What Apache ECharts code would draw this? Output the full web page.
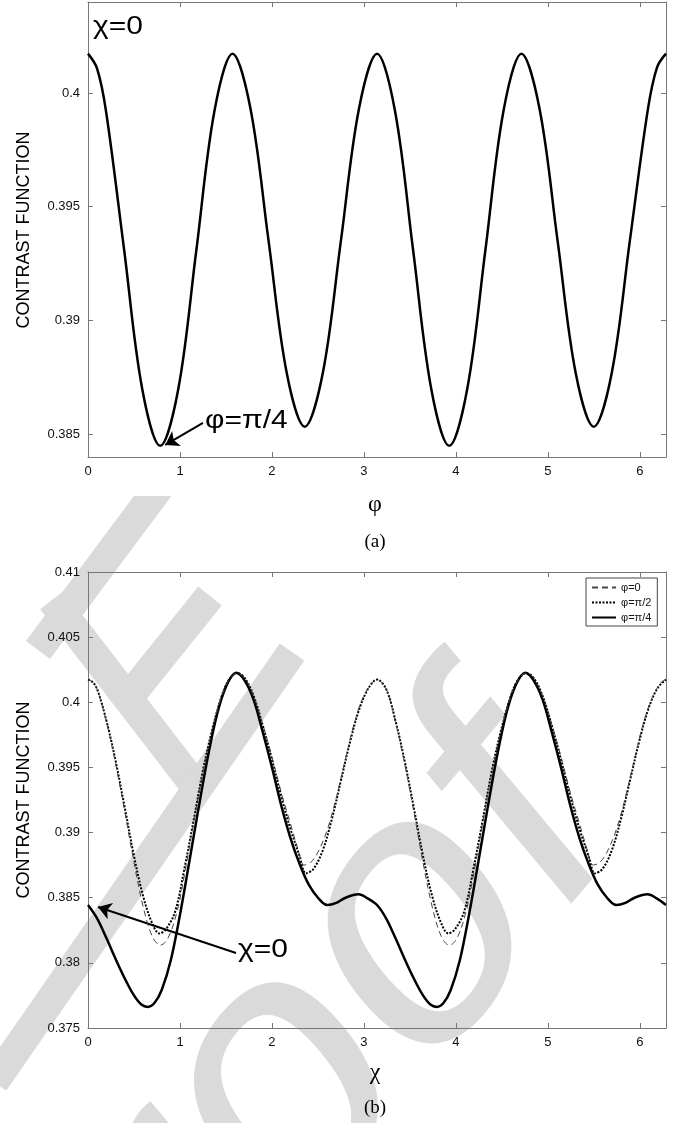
<!DOCTYPE html>
<html>
<head>
<meta charset="utf-8">
<script src="https://cdn.jsdelivr.net/npm/echarts@6/dist/echarts.min.js"></script>
<style>
  html, body { margin: 0; padding: 0; background: #fff; }
  #chart { width: 688px; height: 1123px; }
</style>
</head>
<body>
<div id="chart"></div>
<script>
// ---- panel (a): chi = 0, contrast vs phi ----
const phiA = [0, 0.098, 0.196, 0.393, 0.589, 0.785, 0.982, 1.178, 1.374, 1.571, 1.767, 1.963, 2.160, 2.356, 2.553, 2.749, 2.945,
  3.142, 3.338, 3.534, 3.731, 3.927, 4.123, 4.320, 4.516, 4.712, 4.909, 5.105, 5.301, 5.498, 5.694, 5.890, 6.087, 6.185, 6.283];
const contrastA = [0.40173, 0.40108, 0.3992, 0.3931, 0.3870, 0.38449, 0.3870, 0.3931, 0.3992, 0.40173, 0.3993, 0.3935, 0.3877, 0.38533, 0.3877, 0.3935, 0.3993,
  0.40173, 0.3992, 0.3931, 0.3870, 0.38449, 0.3870, 0.3931, 0.3992, 0.40173, 0.3993, 0.3935, 0.3877, 0.38533, 0.3877, 0.3935, 0.3993, 0.40112, 0.40173];

// ---- panel (b): contrast vs chi ----
const chiPhi0 = [0, 0.05, 0.1, 0.2, 0.3, 0.4, 0.5, 0.6, 0.7, 0.786, 0.87, 0.97, 1.05, 1.15, 1.25, 1.35, 1.45, 1.53, 1.62, 1.7, 1.8, 1.9, 2.0, 2.1, 2.2, 2.28, 2.35, 2.42, 2.5, 2.6, 2.7, 2.8, 2.9, 3.0,
  3.142, 3.242, 3.342, 3.442, 3.542, 3.642, 3.742, 3.842, 3.928, 4.012, 4.112, 4.192, 4.292, 4.392, 4.492, 4.592, 4.672, 4.762, 4.842, 4.942, 5.042, 5.142, 5.242, 5.342, 5.422, 5.492, 5.562, 5.642, 5.742, 5.842, 5.942, 6.042, 6.142, 6.233, 6.283];
const contrastPhi0 = [0.40174, 0.40155, 0.4010, 0.3985, 0.3953, 0.3916, 0.3877, 0.3843, 0.3820, 0.38136, 0.3819, 0.3840, 0.3868, 0.3908, 0.3947, 0.3979, 0.4004, 0.4017, 0.40224, 0.4019, 0.4005, 0.3983, 0.3958, 0.3931, 0.3907, 0.3888, 0.38751, 0.3877, 0.3885, 0.3902, 0.3927, 0.3957, 0.3985, 0.4005,
  0.40174, 0.4010, 0.3985, 0.3953, 0.3916, 0.3877, 0.3843, 0.3820, 0.38136, 0.3819, 0.3840, 0.3868, 0.3908, 0.3947, 0.3979, 0.4004, 0.4017, 0.40224, 0.4019, 0.4005, 0.3983, 0.3958, 0.3931, 0.3907, 0.3888, 0.38751, 0.3877, 0.3885, 0.3902, 0.3927, 0.3957, 0.3985, 0.4005, 0.40155, 0.40174];

const chiPhiHalfPi = [0, 0.05, 0.1, 0.2, 0.3, 0.4, 0.5, 0.6, 0.7, 0.775, 0.85, 0.95, 1.05, 1.15, 1.25, 1.35, 1.45, 1.53, 1.62, 1.7, 1.8, 1.9, 2.0, 2.1, 2.2, 2.3, 2.37, 2.45, 2.55, 2.65, 2.75, 2.85, 2.95, 3.05,
  3.142, 3.242, 3.342, 3.442, 3.542, 3.642, 3.742, 3.842, 3.917, 3.992, 4.092, 4.192, 4.292, 4.392, 4.492, 4.592, 4.672, 4.762, 4.842, 4.942, 5.042, 5.142, 5.242, 5.342, 5.442, 5.512, 5.592, 5.692, 5.792, 5.892, 5.992, 6.092, 6.192, 6.283];
const contrastPhiHalfPi = [0.40174, 0.40155, 0.4010, 0.3986, 0.3955, 0.3919, 0.3882, 0.3851, 0.3830, 0.38226, 0.3826, 0.3840, 0.3873, 0.3910, 0.3948, 0.3979, 0.4004, 0.4017, 0.40224, 0.4019, 0.4005, 0.3982, 0.3956, 0.3928, 0.3903, 0.3882, 0.38687, 0.3872, 0.3886, 0.3910, 0.3940, 0.3970, 0.3995, 0.4011,
  0.40174, 0.4010, 0.3986, 0.3955, 0.3919, 0.3882, 0.3851, 0.3830, 0.38226, 0.3826, 0.3840, 0.3873, 0.3910, 0.3948, 0.3979, 0.4004, 0.4017, 0.40224, 0.4019, 0.4005, 0.3982, 0.3956, 0.3928, 0.3903, 0.3882, 0.38687, 0.3872, 0.3886, 0.3910, 0.3940, 0.3970, 0.3995, 0.4011, 0.40174];

const chiPhiQuarterPi = [0, 0.1, 0.2, 0.3, 0.4, 0.5, 0.58, 0.65, 0.72, 0.8, 0.9, 1.0, 1.1, 1.2, 1.3, 1.4, 1.5, 1.61, 1.7, 1.8, 1.9, 2.0, 2.1, 2.2, 2.3, 2.4, 2.5, 2.6, 2.7, 2.8, 2.94, 3.04,
  3.142, 3.242, 3.342, 3.442, 3.542, 3.642, 3.722, 3.792, 3.862, 3.942, 4.042, 4.142, 4.242, 4.342, 4.442, 4.542, 4.642, 4.752, 4.842, 4.942, 5.042, 5.142, 5.242, 5.342, 5.442, 5.542, 5.642, 5.742, 5.842, 5.942, 6.082, 6.182, 6.283];
const contrastPhiQuarterPi = [0.38444, 0.3834, 0.3819, 0.3803, 0.3788, 0.3775, 0.3768, 0.37662, 0.3769, 0.3779, 0.3802, 0.3837, 0.3877, 0.3918, 0.3957, 0.3990, 0.4012, 0.40226, 0.4017, 0.4002, 0.3977, 0.3950, 0.3921, 0.3896, 0.3876, 0.3860, 0.3850, 0.38444, 0.3846, 0.3850, 0.38526, 0.38495,
  0.38444, 0.3834, 0.3819, 0.3803, 0.3788, 0.3775, 0.3768, 0.37662, 0.3769, 0.3779, 0.3802, 0.3837, 0.3877, 0.3918, 0.3957, 0.3990, 0.4012, 0.40226, 0.4017, 0.4002, 0.3977, 0.3950, 0.3921, 0.3896, 0.3876, 0.3860, 0.3850, 0.38444, 0.3846, 0.3850, 0.38526, 0.38495, 0.38444];

const xTicks = [0, 1, 2, 3, 4, 5, 6];
const yTicksA = [0.385, 0.39, 0.395, 0.4];
const yTicksB = [0.375, 0.38, 0.385, 0.39, 0.395, 0.4, 0.405, 0.41];

const zip = (xs, ys) => xs.map((x, i) => [x, ys[i]]);

const frame = '#777';
const labelFont = { color: '#111', fontSize: 13, fontFamily: 'Liberation Sans' };
const wmGray = '#dadada';

function xAxisPair(grid) {
  const base = {
    type: 'value', gridIndex: grid, min: 0, max: 6.2832,
    axisLine: { show: true, onZero: false, lineStyle: { color: frame, width: 1 } },
    axisTick: { show: true, inside: true, length: 5, customValues: xTicks, lineStyle: { color: frame } },
    splitLine: { show: false }
  };
  return [
    Object.assign({}, base, { position: 'bottom', axisLabel: Object.assign({ margin: 8, customValues: xTicks }, labelFont) }),
    Object.assign({}, base, { position: 'top', axisLabel: { show: false } })
  ];
}

function yAxisPair(grid, min, max, ticks) {
  const base = {
    type: 'value', gridIndex: grid, min: min, max: max,
    axisLine: { show: true, onZero: false, lineStyle: { color: frame, width: 1 } },
    axisTick: { show: true, inside: true, length: 5, customValues: ticks, lineStyle: { color: frame } },
    splitLine: { show: false }
  };
  return [
    Object.assign({}, base, { position: 'left', axisLabel: Object.assign({ margin: 8, customValues: ticks }, labelFont) }),
    Object.assign({}, base, { position: 'right', axisLabel: { show: false } })
  ];
}

const arrowLine = (from, to) => ({
  silent: true,
  symbol: ['none', 'arrow'],
  symbolSize: 13,
  label: { show: false },
  lineStyle: { color: '#000', width: 2, type: 'solid' },
  itemStyle: { color: '#000' },
  data: [[{ coord: from }, { coord: to }]],
  animation: false
});

const annot = (text, x, y, size) => ({
  type: 'text', x: x, y: y, scaleY: 0.84, z: 10,
  style: { text: text, fontSize: size, fontFamily: 'Liberation Sans', fill: '#000',
    align: 'left', verticalAlign: 'middle', textAlign: 'left', textVerticalAlign: 'middle' }
});

const centered = (text, x, y, size, family, rot) => ({
  type: 'text', x: x, y: y, rotation: rot || 0, z: 10,
  style: { text: text, fontSize: size, fontFamily: family, fill: '#000',
    align: 'center', verticalAlign: 'middle', textAlign: 'center', textVerticalAlign: 'middle' }
});

// background watermark strokes (decoration only)
const band = (x1, y1, x2, y2) => ({
  type: 'line', z: -2, silent: true,
  shape: { x1: x1, y1: y1, x2: x2, y2: y2 },
  style: { stroke: wmGray, lineWidth: 30, lineCap: 'butt' }
});

const chart = echarts.init(document.getElementById('chart'), null, { renderer: 'canvas' });

chart.setOption({
  animation: false,
  backgroundColor: '#fff',
  grid: [
    { left: 88, top: 2, width: 578, height: 455 },
    { left: 88, top: 572, width: 578, height: 456 }
  ],
  xAxis: xAxisPair(0).concat(xAxisPair(1)),
  yAxis: yAxisPair(0, 0.384, 0.404, yTicksA).concat(yAxisPair(1, 0.375, 0.41, yTicksB)),
  legend: {
    data: ['φ=0', 'φ=π/2', 'φ=π/4'],
    orient: 'vertical',
    left: 586, top: 578,
    itemWidth: 24, itemHeight: 12, itemGap: 4,
    padding: [4, 6, 3, 5],
    borderColor: '#444', borderWidth: 1, borderRadius: 0,
    backgroundColor: '#fff',
    itemStyle: { opacity: 0 },
    textStyle: { fontSize: 11, fontFamily: 'Liberation Sans', color: '#111' }
  },
  series: [
    {
      name: 'chi0', type: 'line', xAxisIndex: 0, yAxisIndex: 0,
      data: zip(phiA, contrastA), smooth: 0.35, symbol: 'none',
      lineStyle: { color: '#000', width: 2.5 },
      markLine: arrowLine([1.25, 0.385495], [0.84, 0.38453])
    },
    {
      name: 'φ=π/4', type: 'line', xAxisIndex: 2, yAxisIndex: 2, z: 3,
      data: zip(chiPhiQuarterPi, contrastPhiQuarterPi), smooth: 0.35, symbol: 'none',
      itemStyle: { color: '#000' },
      lineStyle: { color: '#000', width: 2.5 },
      markLine: arrowLine([1.609, 0.380756], [0.109, 0.384287])
    },
    {
      name: 'φ=π/2', type: 'line', xAxisIndex: 2, yAxisIndex: 2, z: 4,
      data: zip(chiPhiHalfPi, contrastPhiHalfPi), smooth: 0.35, symbol: 'none',
      itemStyle: { color: '#000' },
      lineStyle: { color: '#000', width: 2, type: [2, 1.5] }
    },
    {
      name: 'φ=0', type: 'line', xAxisIndex: 2, yAxisIndex: 2, z: 5,
      data: zip(chiPhi0, contrastPhi0), smooth: 0.35, symbol: 'none',
      itemStyle: { color: '#555' },
      lineStyle: { color: '#444', width: 1, type: [6, 4] }
    }
  ],
  graphic: [
    {
      type: 'group', x: 0, y: 0, scaleY: 1.2, z: -2, silent: true,
      children: [{
        type: 'text', x: -24, y: 1216, rotation: Math.PI / 4, z: -2,
        style: { text: 'Proof', fontSize: 340, fontFamily: 'Liberation Sans', fill: wmGray,
          align: 'left', verticalAlign: 'middle', textAlign: 'left', textVerticalAlign: 'middle' }
      }]
    },
    band(172, 470, 38, 650),
    band(52, 600, 200, 792),
    band(210, 596, 120, 708),
    band(292, 652, -6, 1082),
    { type: 'rect', z: -1, silent: true, shape: { x: 0, y: 0, width: 688, height: 496 }, style: { fill: '#fff' } },
    annot('χ=0', 93, 27, 30),
    annot('φ=π/4', 205, 421.5, 30),
    annot('χ=0', 238, 950, 30),
    centered('CONTRAST FUNCTION', 24, 230, 18, 'Liberation Sans', Math.PI / 2),
    centered('CONTRAST FUNCTION', 24, 800, 18, 'Liberation Sans', Math.PI / 2),
    centered('φ', 375, 505, 24, 'Liberation Serif'),
    centered('(a)', 375, 542, 19, 'Liberation Serif'),
    centered('χ', 375, 1073, 24, 'Liberation Serif'),
    centered('(b)', 375, 1108, 19, 'Liberation Serif')
  ]
});
</script>
</body>
</html>
